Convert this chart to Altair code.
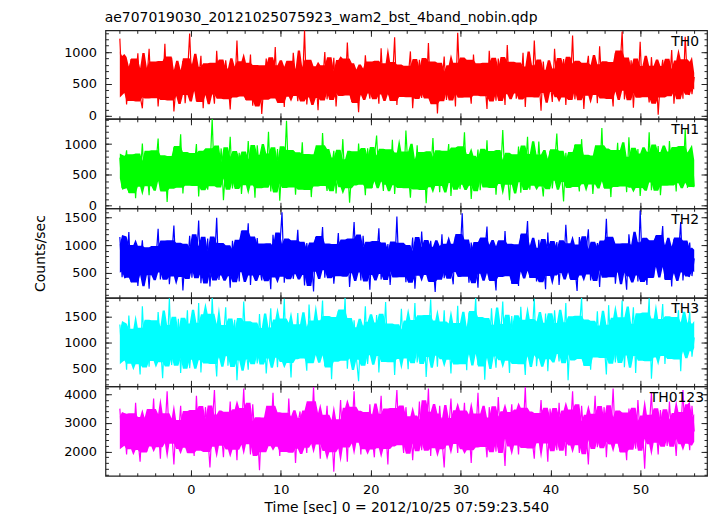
import altair as alt
import pandas as pd

# ---- data ----
T0 = -7.9    # first sample time [s]
DT = 0.2505  # sample spacing [s]

TH0 = [
    1210, 420, 760, 180, 650, 890, 240, 530, 980, 310, 120, 720, 560, 1050, 290, 470,
    830, 150, 640, 380, 1130, 260, 590, 910, 70, 480, 700, 340, 860, 200, 620, 1290,
    410, 750, 230, 540, 940, 120, 680, 350, 810, 500, 190, 1020, 440, 620, 280, 870,
    560, 100, 730, 390, 1180, 310, 600, 820, 250, 470, 960, 160, 690, 430, 780, 30,
    520, 900, 280, 640, 370, 1080, 210, 570, 760, 140, 850, 450, 320, 990, 600, 230,
    700, 410, 1340, 180, 560, 830, 300, 640, 90, 770, 490, 1000, 260, 620, 380, 910,
    150, 680, 540, 870, 330, 1150, 440, 220, 790, 600, 60, 720, 360, 950, 500, 270,
    840, 430, 660, 190, 1060, 350, 580, 800, 240, 510, 1230, 170, 690, 400, 760, 310,
    590, 1010, 120, 640, 450, 880, 280, 730, 360, 1140, 200, 560, 820, 40, 670, 490,
    930, 250, 610, 380, 780, 150, 1300, 420, 600, 300, 870, 520, 190, 960, 440, 700,
    330, 810, 560, 110, 1020, 390, 650, 240, 900, 480, 740, 170, 1110, 360, 590, 820,
    270, 680, 430, 990, 140, 750, 520, 310, 1180, 460, 620, 80, 850, 390, 710, 560,
    220, 1050, 480, 640, 300, 890, 170, 770, 430, 1260, 260, 600, 510, 820, 110, 690,
    940, 340, 570, 780, 200, 1090, 460, 650, 280, 830, 520, 150, 990, 410, 720, 1320,
    260, 610, 480, 870, 130, 740, 390, 1160, 300, 660, 530, 210, 920, 440, 770, 20,
    580, 880, 320, 700, 470, 1030, 190, 640, 410, 850, 270, 1240, 500, 720, 340, 610,
]
TH1 = [
    780, 290, 640, 900, 210, 550, 830, 120, 700, 460, 1010, 330, 590, 170, 880, 420,
    650, 1090, 250, 520, 790, 60, 690, 380, 950, 300, 560, 1160, 200, 730, 470, 840,
    340, 610, 1000, 150, 720, 430, 880, 260, 570, 1410, 320, 680, 480, 930, 90, 640,
    520, 1120, 280, 760, 410, 860, 190, 620, 350, 1050, 470, 720, 130, 980, 560, 300,
    810, 450, 1200, 230, 660, 390, 920, 80, 700, 540, 1380, 310, 600, 850, 180, 740,
    460, 1030, 270, 580, 820, 140, 690, 420, 960, 330, 1180, 500, 240, 770, 610, 890,
    200, 660, 440, 1080, 310, 720, 50, 590, 870, 360, 1010, 480, 640, 170, 930, 530,
    290, 780, 1140, 410, 600, 240, 900, 510, 350, 1070, 190, 670, 450, 840, 300, 1220,
    560, 130, 730, 420, 980, 280, 620, 860, 40, 690, 510, 1100, 330, 760, 220, 880,
    470, 640, 1000, 160, 710, 390, 940, 270, 580, 1190, 350, 800, 110, 670, 520, 910,
    250, 740, 430, 1060, 300, 620, 870, 180, 690, 480, 1230, 370, 560, 90, 820, 640,
    400, 960, 210, 700, 530, 1120, 260, 610, 810, 330, 1040, 470, 150, 750, 580, 890,
    280, 660, 1170, 420, 590, 70, 860, 500, 720, 310, 990, 550, 230, 1080, 440, 680,
    360, 800, 190, 640, 950, 410, 1260, 290, 570, 730, 140, 890, 480, 1020, 320, 610,
    760, 220, 1110, 450, 680, 300, 920, 160, 600, 840, 390, 1190, 250, 700, 520, 970,
    170, 630, 860, 340, 1050, 470, 710, 230, 940, 560, 380, 1240, 290, 650, 820, 310,
]
TH2 = [
    1150, 420, 860, 600, 1240, 330, 740, 980, 260, 690, 1090, 480, 820, 210, 950, 560,
    700, 1300, 380, 880, 520, 1060, 290, 760, 1360, 450, 640, 1010, 180, 830, 590, 1170,
    410, 930, 680, 1450, 310, 790, 540, 1120, 250, 870, 660, 1500, 370, 720, 990, 460,
    820, 230, 1080, 610, 900, 340, 1260, 530, 760, 1400, 280, 940, 470, 1130, 620, 360,
    1020, 560, 790, 200, 1190, 680, 440, 960, 1600, 320, 850, 590, 1070, 390, 730, 1280,
    480, 910, 270, 1040, 650, 830, 160, 1150, 560, 770, 1330, 410, 880, 600, 1000, 300,
    710, 1220, 450, 860, 580, 1090, 240, 780, 1420, 520, 940, 360, 1170, 680, 820, 190,
    1050, 490, 740, 1310, 380, 900, 610, 1020, 280, 840, 550, 1520, 430, 760, 990, 330,
    870, 640, 1140, 210, 800, 470, 1250, 570, 930, 350, 1080, 700, 150, 960, 520, 1200,
    400, 830, 1010, 600, 290, 1160, 540, 780, 1580, 440, 890, 320, 1050, 660, 750, 230,
    1120, 510, 860, 1340, 370, 970, 620, 180, 1070, 730, 450, 1260, 580, 820, 300, 1000,
    690, 260, 1190, 550, 880, 1440, 410, 760, 940, 340, 1100, 600, 790, 200, 1230, 470,
    920, 650, 1060, 280, 840, 520, 1370, 700, 390, 1000, 610, 170, 1150, 760, 480, 890,
    1290, 360, 770, 580, 1040, 240, 950, 670, 1480, 430, 810, 1120, 300, 720, 540, 1020,
    620, 190, 1200, 780, 460, 990, 340, 1630, 560, 860, 280, 1080, 700, 420, 1170, 630,
    850, 1350, 380, 740, 960, 250, 1110, 520, 820, 1420, 360, 900, 600, 1050, 440, 760,
]
TH3 = [
    1350, 720, 1080, 480, 1520, 860, 610, 1240, 950, 390, 1700, 780, 1130, 540, 1410, 880,
    660, 1590, 1010, 320, 1280, 820, 1850, 570, 1060, 740, 1460, 420, 1190, 900, 1620, 510,
    1000, 1340, 690, 1760, 430, 1150, 870, 1520, 620, 1860, 940, 350, 1300, 760, 1090, 1680,
    560, 1220, 830, 1440, 280, 1040, 700, 1790, 910, 480, 1370, 790, 1160, 600, 1550, 870,
    1250, 410, 1010, 1660, 730, 1180, 530, 1420, 850, 1840, 640, 1100, 330, 1330, 950, 1570,
    720, 1260, 890, 460, 1730, 1020, 620, 1390, 780, 1120, 1810, 550, 970, 1480, 300, 1200,
    860, 1610, 670, 1050, 1860, 500, 1170, 820, 1430, 720, 260, 1280, 960, 1700, 590, 1090,
    1370, 780, 1530, 430, 1140, 900, 1780, 650, 1020, 1320, 380, 1210, 840, 1650, 720, 1060,
    490, 1400, 980, 1760, 620, 1150, 860, 1500, 340, 1070, 1830, 770, 1230, 540, 1380, 920,
    1620, 700, 1100, 410, 1340, 850, 1710, 600, 990, 1270, 470, 1580, 810, 1160, 1860, 570,
    1040, 1450, 290, 1200, 760, 1660, 930, 520, 1310, 1080, 1790, 680, 1140, 420, 1510, 870,
    1230, 610, 1690, 960, 380, 1410, 780, 1120, 1840, 550, 1000, 1360, 710, 1560, 450, 1180,
    800, 1620, 1060, 640, 1350, 910, 1760, 280, 1190, 830, 1480, 700, 1270, 1860, 560, 1030,
    1400, 480, 1150, 870, 1600, 740, 1300, 1000, 390, 1720, 850, 1220, 620, 1450, 960, 1810,
    530, 1260, 780, 1080, 1680, 420, 1330, 900, 1550, 680, 1130, 1850, 310, 1020, 1420, 760,
    1170, 1740, 590, 1290, 950, 1480, 700, 1070, 1620, 450, 1360, 880, 1200, 1590, 730, 1100,
]
TH0123 = [
    3500, 2300, 2900, 1900, 3300, 2600, 2100, 3700, 2450, 1650, 3150, 2750, 2000, 3450, 2550, 3850,
    2200, 2950, 1750, 3250, 2650, 4100, 2350, 2800, 1550, 3050, 2500, 3600, 2150, 2850, 1950, 3400,
    2700, 1850, 3950, 2400, 3100, 2050, 3550, 2600, 1450, 2900, 4150, 2250, 3200, 2750, 1800, 3350,
    2550, 3750, 2100, 2950, 1700, 3450, 2650, 4200, 2300, 3000, 1900, 3650, 2450, 2850, 1350, 3150,
    2800, 2050, 3550, 2500, 4050, 2200, 3000, 1850, 3300, 2650, 2000, 3850, 2400, 3150, 1600, 2950,
    3400, 2150, 2700, 1950, 3700, 2550, 4250, 2300, 2900, 1750, 3250, 2600, 3600, 2050, 2800, 1300,
    3050, 2450, 3800, 2200, 2950, 1650, 3500, 2700, 4100, 2350, 3100, 1900, 3350, 2600, 2100, 3650,
    2500, 1800, 3250, 2750, 3950, 2150, 2850, 1550, 3450, 2400, 3000, 4150, 2250, 2700, 1950, 3550,
    2600, 3200, 1700, 2900, 2350, 3750, 2050, 3050, 2550, 4200, 1850, 3300, 2650, 2150, 3600, 2450,
    1450, 3100, 2750, 3850, 2300, 2950, 1950, 3400, 2600, 3700, 2100, 2850, 1600, 3250, 2500, 4050,
    2200, 3000, 2650, 1800, 3550, 2400, 3150, 2000, 3900, 2550, 2800, 1500, 3350, 2700, 3650, 2250,
    2950, 1900, 3450, 2600, 4250, 2150, 3050, 2450, 1750, 3300, 2700, 3800, 2350, 2900, 1650, 3500,
    2550, 3150, 2050, 3700, 2400, 2850, 1850, 3400, 2650, 4100, 2250, 3000, 1950, 3600, 2500, 2750,
    1550, 3250, 2600, 3950, 2150, 2900, 2400, 3550, 1800, 3100, 2700, 4200, 2300, 2850, 2000, 3350,
    2650, 1700, 3500, 2450, 3000, 2100, 3800, 2550, 2950, 1400, 3200, 2750, 4050, 2350, 2900, 1900,
    3450, 2600, 3050, 2200, 3750, 2500, 2850, 1850, 3300, 2650, 4150, 2300, 2950, 2050, 3600, 2700,
]

NAMES = ["TH0", "TH1", "TH2", "TH3", "TH0123"]
VALUES = [TH0, TH1, TH2, TH3, TH0123]
COLORS = ["#ff0000", "#00ff00", "#0000ff", "#00ffff", "#ff00ff"]
Y_DOMAINS = [[-45, 1340], [-42, 1410], [45, 1671], [163, 1861], [1156, 4278]]
Y_MAJOR = [[0, 500, 1000], [0, 500, 1000], [500, 1000, 1500], [500, 1000, 1500], [2000, 3000, 4000]]
Y_MINOR_STEP = [100, 100, 100, 100, 200]
X_DOMAIN = [-9.5, 57.4]
X_MAJOR = [0, 10, 20, 30, 40, 50]
X_MINOR = list(range(-8, 57, 2))

TITLE = "ae707019030_20121025075923_wam2_bst_4band_nobin.qdp"
X_TITLE = "Time [sec] 0 = 2012/10/25 07:59:23.540"
Y_TITLE = "Counts/sec"

# ---- layout / style ----
FONT = "DejaVu Sans"
W = 605
HEIGHTS = [89, 90, 90, 89, 90]
LABEL_X = [597, 597, 597, 597, 602]
INK = "#222222"
LABEL_SIZE = 13


def tick_axis(orient, values, size):
    return alt.Axis(orient=orient, values=values, tickSize=size, offset=-size,
                    labels=False, domain=False, grid=False, title=None,
                    tickColor=INK, tickWidth=1)


def panel(i):
    name, vals, color = NAMES[i], VALUES[i], COLORS[i]
    ydom = Y_DOMAINS[i]
    ymaj = Y_MAJOR[i]
    step = Y_MINOR_STEP[i]
    lo_m = (ydom[0] // step + 1) * step
    ymin = [v for v in range(int(lo_m), int(ydom[1]) + 1, step)]

    t = [T0 + DT * k for k in range(len(vals))]
    df = pd.DataFrame({"t": t, "v": vals})
    s = pd.Series(vals)
    core = pd.DataFrame({
        "t": t,
        "lo": s.rolling(7, center=True, min_periods=1).quantile(0.15),
        "hi": s.rolling(7, center=True, min_periods=1).quantile(0.85),
    })

    xs = alt.Scale(domain=X_DOMAIN, nice=False, zero=False)
    ys = alt.Scale(domain=ydom, nice=False, zero=False)

    area = alt.Chart(core).mark_area(color=color, opacity=1, clip=True).encode(
        x=alt.X("t:Q", scale=xs, axis=tick_axis("bottom", X_MAJOR, 6)),
        y=alt.Y("lo:Q", scale=ys, axis=tick_axis("left", ymaj, 6)),
        y2="hi:Q",
    )
    line = alt.Chart(df).mark_line(color=color, strokeWidth=1.2, clip=True).encode(
        x=alt.X("t:Q", scale=xs, axis=tick_axis("top", X_MAJOR, 6)),
        y=alt.Y("v:Q", scale=ys, axis=tick_axis("right", ymaj, 6)),
    )
    minor1 = alt.Chart(df).mark_point(opacity=0, size=0).encode(
        x=alt.X("t:Q", scale=xs, axis=tick_axis("bottom", X_MINOR, 3)),
        y=alt.Y("v:Q", scale=ys, axis=tick_axis("left", ymin, 3)),
    )
    minor2 = alt.Chart(df).mark_point(opacity=0, size=0).encode(
        x=alt.X("t:Q", scale=xs, axis=tick_axis("top", X_MINOR, 3)),
        y=alt.Y("v:Q", scale=ys, axis=tick_axis("right", ymin, 3)),
    )
    bottom = i == len(NAMES) - 1
    if bottom:
        xlab = alt.Axis(orient="bottom", values=X_MAJOR, tickSize=0, labelPadding=8,
                        domain=False, grid=False, labelFont=FONT, labelFontSize=LABEL_SIZE,
                        labelColor="black", format="d", title=X_TITLE, titleFont=FONT,
                        titleFontSize=14, titleFontWeight="normal", titleColor="black",
                        titlePadding=4)
    else:
        xlab = None
    ykw = dict(orient="left", values=ymaj, tickSize=0, labelPadding=9, format="d",
               domain=False, grid=False, labelFont=FONT, labelFontSize=LABEL_SIZE,
               labelColor="black")
    if i == 2:
        ylab = alt.Axis(title=Y_TITLE, titleFont=FONT, titleFontSize=14,
                        titleFontWeight="normal", titleColor="black",
                        titlePadding=16, **ykw)
    else:
        ylab = alt.Axis(title=None, **ykw)
    labels = alt.Chart(df).mark_point(opacity=0, size=0).encode(
        x=alt.X("t:Q", scale=xs, axis=xlab),
        y=alt.Y("v:Q", scale=ys, axis=ylab),
    )
    text = alt.Chart(pd.DataFrame({"label": [name]})).mark_text(
        align="right", baseline="alphabetic", font=FONT, fontSize=14, color="black"
    ).encode(x=alt.value(LABEL_X[i]), y=alt.value(15.5), text="label:N")

    ch = alt.layer(area, line, minor1, minor2, labels, text).resolve_axis(
        x="independent", y="independent"
    )
    return ch.properties(width=W, height=HEIGHTS[i])


chart = alt.vconcat(*[panel(i) for i in range(len(NAMES))], spacing=0, bounds="flush").properties(
    title=alt.TitleParams(TITLE, anchor="start", font=FONT, fontSize=14,
                          fontWeight="normal", color="black", offset=4, dx=72),
    padding={"left": 25, "top": 1, "right": 0, "bottom": 0},
    background="white",
).configure_view(stroke=INK, strokeWidth=1.2)

chart.save("out.html", embed_options={"renderer": "svg", "actions": False})
